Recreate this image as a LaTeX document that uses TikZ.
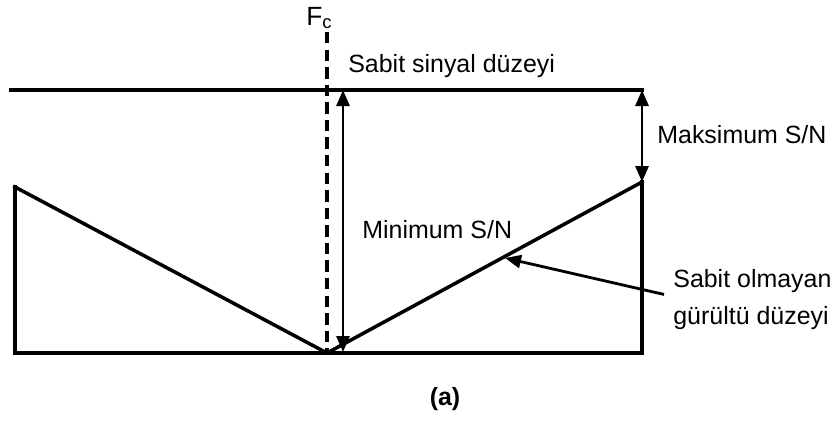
\documentclass[tikz,border=0pt]{standalone}
\usepackage{fontspec}
\setmainfont{Liberation Sans}
\usetikzlibrary{arrows.meta, positioning, calc}
\tikzset{
  lbl/.style={font=\fontsize{14.2}{21}\selectfont, inner sep=0pt, anchor=base west},
  edge/.style={line width=2pt, line join=miter, line cap=rect},
  fcline/.style={line width=2pt, dash pattern=on 6.5pt off 3.5pt},
  dim/.style={{Triangle[length=3.2mm, width=2.6mm]}-{Triangle[length=3.2mm, width=2.6mm]}, line width=1.6pt},
  pointer/.style={-{Triangle[length=3.2mm, width=2.6mm]}, line width=1.6pt},
}
\begin{document}
\begin{tikzpicture}[x=0.02cm, y=-0.02cm]
  \useasboundingbox (0,0) rectangle (834,420);
  % corners of the level plot
  \coordinate (tl) at (11,90);
  \coordinate (tr) at (642,90);
  \coordinate (lt) at (15,187);
  \coordinate (lb) at (15,353);
  \coordinate (rb) at (642,353);
  \coordinate (rt) at (642,182);
  \coordinate (fc) at (327,353);
  \coordinate (fctop) at (327,32);
  \coordinate (mint) at (343,90);
  \coordinate (minb) at (343,352);
  \coordinate (hit) at (505,258);
  % labels
  \node[lbl, font=\fontsize{15}{17}\selectfont] (fclab) at (306,25) {F\textsubscript{c}};
  \node[lbl] (toplab) at (348,72) {Sabit sinyal düzeyi};
  \node[lbl] (maxlab) at (657,143) {Maksimum S/N};
  \node[lbl] (minlab) at (362,238) {Minimum S/N};
  \node[lbl, anchor=north west, align=left] (noiselab) at (673,269) {Sabit olmayan\\gürültü düzeyi};
  \node[lbl, anchor=base] (caption) at (445,405) {\bfseries(a)};
  % lines
  \draw[edge] (tl) -- (tr);
  \draw[edge] (lt) -- (lb) -- (rb) -- (rt);
  \draw[edge] (lt) -- (fc) -- (rt);
  \draw[fcline] (fctop) -- (fc);
  \draw[dim] (mint) -- (minb);
  \draw[dim] (tr) -- (rt);
  \draw[pointer] ([shift={(-9,-5)}]noiselab.west) -- (hit);
\end{tikzpicture}
\end{document}
